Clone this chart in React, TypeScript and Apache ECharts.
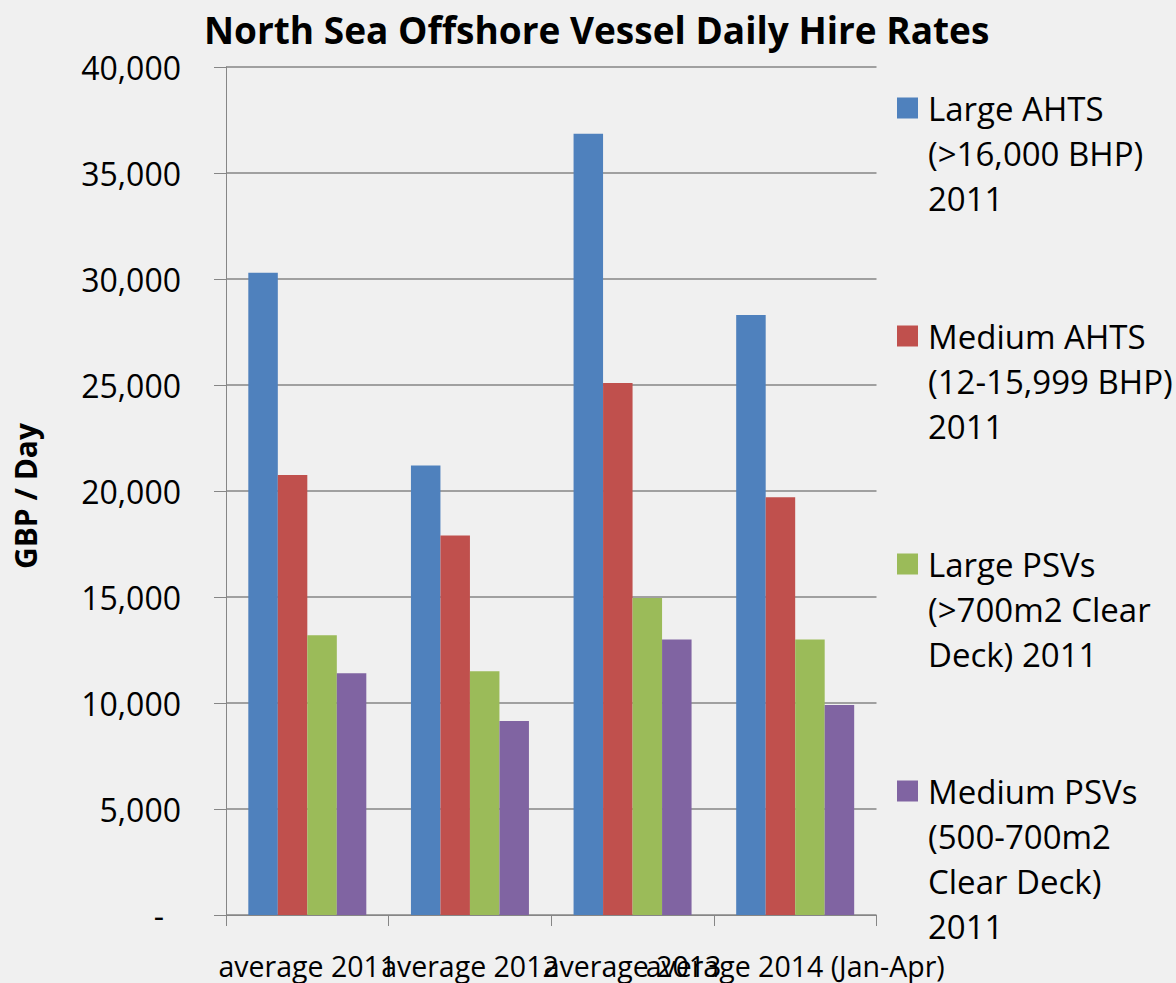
import React, { useEffect, useRef } from "react";
import * as echarts from "echarts";

const CATEGORIES = ["average 2011", "average 2012", "average 2013", "average 2014 (Jan-Apr)"];
const SERIES_NAMES = [
  "Large AHTS\n(>16,000 BHP)\n2011",
  "Medium AHTS\n(12-15,999 BHP)\n2011",
  "Large PSVs\n(>700m2 Clear\nDeck) 2011",
  "Medium PSVs\n(500-700m2\nClear Deck)\n2011",
];
const LARGE_AHTS = [30300, 21200, 36850, 28300];
const MEDIUM_AHTS = [20750, 17900, 25100, 19700];
const LARGE_PSVS = [13200, 11500, 14950, 13000];
const MEDIUM_PSVS = [11400, 9150, 13000, 9900];
const COLORS = ["#4F81BD", "#C0504D", "#9BBB59", "#8064A2"];
const Y_MIN = 0;
const Y_MAX = 40000;
const Y_STEP = 5000;

const FONT = "'Open Sans', 'Noto Sans', sans-serif";

export default function App() {
  const ref = useRef<HTMLDivElement>(null);
  useEffect(() => {
    if (!ref.current) return;
    const chart = echarts.init(ref.current, null, { renderer: "svg" });
    const values = [LARGE_AHTS, MEDIUM_AHTS, LARGE_PSVS, MEDIUM_PSVS];
    const lineCounts = SERIES_NAMES.map((n) => n.split("\n").length);
    const firstLineCenters = [108, 336, 564, 791];
    const LH = 45;
    const legends = SERIES_NAMES.map((name, i) => {
      const n = lineCounts[i];
      const blockH = (2 * n - 1) * LH;
      const top = firstLineCenters[i] - blockH / 2;
      return {
        orient: "vertical",
        left: 897,
        top,
        padding: 0,
        itemWidth: 21,
        itemHeight: 21,
        icon: "rect",
        selectedMode: false,
        formatter: (nm: string) => "\n".repeat(n - 1) + nm,
        data: [{ name }],
        textStyle: {
          fontSize: 33,
          lineHeight: LH,
          fontFamily: FONT,
          color: "#000",
          padding: [0, 0, 0, 5],
        },
      };
    });
    chart.setOption({
      animation: false,
      backgroundColor: "#f0f0f0",
      title: {
        text: "North Sea Offshore Vessel Daily Hire Rates",
        left: 204,
        top: 11,
        padding: 0,
        textStyle: { fontSize: 37, fontWeight: "bold", fontFamily: FONT, color: "#000" },
      },
      legend: legends,
      grid: {
        left: 226,
        right: 299.5,
        top: 67,
        bottom: 68,
        containLabel: false,
        outerBoundsMode: "none",
      },
      xAxis: {
        type: "category",
        data: CATEGORIES,
        axisLine: { show: true, lineStyle: { color: "#868686", width: 1 } },
        axisTick: { show: true, length: 11, lineStyle: { color: "#868686" } },
        axisLabel: { interval: 0, fontSize: 28.5, fontFamily: FONT, color: "#000", margin: 36 },
      },
      yAxis: {
        type: "value",
        min: Y_MIN,
        max: Y_MAX,
        interval: Y_STEP,
        name: "GBP / Day",
        nameLocation: "middle",
        nameRotate: 90,
        nameGap: 186,
        nameTextStyle: {
          fontSize: 30,
          fontWeight: "bold",
          fontFamily: FONT,
          color: "#000",
          padding: [0, 10, 0, 0],
        },
        axisLine: { show: true, lineStyle: { color: "#868686", width: 1 } },
        axisTick: { show: true, length: 12, lineStyle: { color: "#868686" } },
        splitLine: { show: true, lineStyle: { color: "#868686", width: 1.5 } },
        axisLabel: {
          fontSize: 32,
          fontFamily: FONT,
          color: "#000",
          margin: 45,
          formatter: (v: number) => (v === 0 ? "{d|-}" : v.toLocaleString("en-US")),
          rich: { d: { fontSize: 32, fontFamily: FONT, color: "#000", padding: [0, 17, 0, 0] } },
        },
      },
      series: SERIES_NAMES.map((name, i) => ({
        name,
        type: "bar",
        data: values[i],
        barWidth: 29.5,
        barGap: "0%",
        itemStyle: { color: COLORS[i] },
      })),
    });
    return () => chart.dispose();
  }, []);
  return (
    <div
      ref={ref}
      style={{ position: "fixed", left: 0, top: 0, width: 1176, height: 983 }}
    />
  );
}
